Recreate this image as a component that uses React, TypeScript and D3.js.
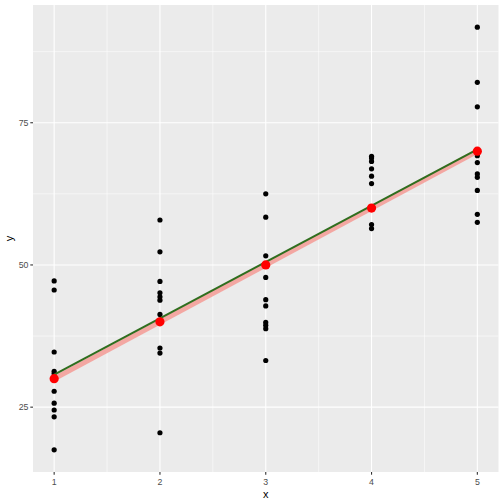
import React from "react";
import * as d3 from "d3";

const xCategories = [1, 2, 3, 4, 5];
const obsX1 = [47.2, 45.6, 34.7, 31.3, 30.9, 27.8, 25.7, 24.5, 23.3, 17.5];
const obsX2 = [57.9, 52.3, 47.1, 45.1, 44.4, 43.8, 41.3, 35.4, 34.5, 20.5];
const obsX3 = [62.5, 58.4, 51.6, 47.8, 43.9, 42.8, 39.9, 39.4, 38.8, 33.2];
const obsX4 = [69.1, 68.8, 68.2, 66.9, 65.6, 64.3, 60.2, 59.8, 57.1, 56.4];
const obsX5 = [91.8, 82.1, 77.8, 69.2, 68.0, 66.0, 65.4, 63.1, 58.9, 57.5];
const groupMeans = [30, 40, 50, 60, 70];
const trueLine = [30, 70];
const fitLine = [30.7, 70.3];
const yTicks = [25, 50, 75];
const yMinor = [37.5, 62.5, 87.5];
const xMinor = [1.5, 2.5, 3.5, 4.5];

const W = 504;
const H = 504;
const left = 33;
const right = 498.5;
const top = 5;
const bottom = 472;

export default function App() {
  const x = d3.scaleLinear().domain([0.8, 5.2]).range([left, right]);
  const y = d3.scaleLinear().domain([13.6, 95.7]).range([bottom, top]);
  const groups = [obsX1, obsX2, obsX3, obsX4, obsX5];
  const points = groups.flatMap((vals, i) => vals.map((v) => ({ x: xCategories[i], y: v })));
  const line = d3
    .line<[number, number]>()
    .x((d) => x(d[0]))
    .y((d) => y(d[1]));
  const xEnds = [xCategories[0], xCategories[xCategories.length - 1]];
  const trueData: [number, number][] = xEnds.map((xv, i) => [xv, trueLine[i]]);
  const fitData: [number, number][] = xEnds.map((xv, i) => [xv, fitLine[i]]);
  const font = "Liberation Sans, Arial, sans-serif";

  return (
    <svg
      width={W}
      height={H}
      style={{ position: "absolute", left: 0, top: 0, background: "#fff" }}
    >
      <rect x={left} y={top} width={right - left} height={bottom - top} fill="#EBEBEB" />
      {yMinor.map((t) => (
        <line key={"ym" + t} x1={left} x2={right} y1={y(t)} y2={y(t)} stroke="#fff" strokeWidth={0.55} />
      ))}
      {xMinor.map((t) => (
        <line key={"xm" + t} x1={x(t)} x2={x(t)} y1={top} y2={bottom} stroke="#fff" strokeWidth={0.55} />
      ))}
      {yTicks.map((t) => (
        <line key={"yM" + t} x1={left} x2={right} y1={y(t)} y2={y(t)} stroke="#fff" strokeWidth={1.1} />
      ))}
      {xCategories.map((t) => (
        <line key={"xM" + t} x1={x(t)} x2={x(t)} y1={top} y2={bottom} stroke="#fff" strokeWidth={1.1} />
      ))}
      {points.map((p, i) => (
        <circle key={"p" + i} cx={x(p.x)} cy={y(p.y)} r={2.6} fill="#000" />
      ))}
      <path d={line(trueData) || ""} stroke="#F4A09A" strokeOpacity={0.9} strokeWidth={5} fill="none" />
      <path d={line(fitData) || ""} stroke="#2F6E1E" strokeWidth={2} fill="none" />
      {groupMeans.map((m, i) => (
        <circle key={"m" + i} cx={x(xCategories[i])} cy={y(m)} r={4.6} fill="#FF0000" />
      ))}
      {yTicks.map((t) => (
        <g key={"yt" + t}>
          <line x1={left - 2.7} x2={left} y1={y(t)} y2={y(t)} stroke="#333" strokeWidth={1.1} />
          <text x={left - 4.5} y={y(t)} dy="0.35em" textAnchor="end" fontSize={8.8} fill="#4D4D4D" fontFamily={font}>
            {t}
          </text>
        </g>
      ))}
      {xCategories.map((t) => (
        <g key={"xt" + t}>
          <line x1={x(t)} x2={x(t)} y1={bottom} y2={bottom + 2.7} stroke="#333" strokeWidth={1.1} />
          <text x={x(t)} y={bottom + 12.5} textAnchor="middle" fontSize={8.8} fill="#4D4D4D" fontFamily={font}>
            {t}
          </text>
        </g>
      ))}
      <text x={(left + right) / 2} y={498} textAnchor="middle" fontSize={11} fill="#000" fontFamily={font}>
        x
      </text>
      <text
        transform={`translate(13, ${(top + bottom) / 2}) rotate(-90)`}
        textAnchor="middle"
        fontSize={11}
        fill="#000"
        fontFamily={font}
      >
        y
      </text>
    </svg>
  );
}
